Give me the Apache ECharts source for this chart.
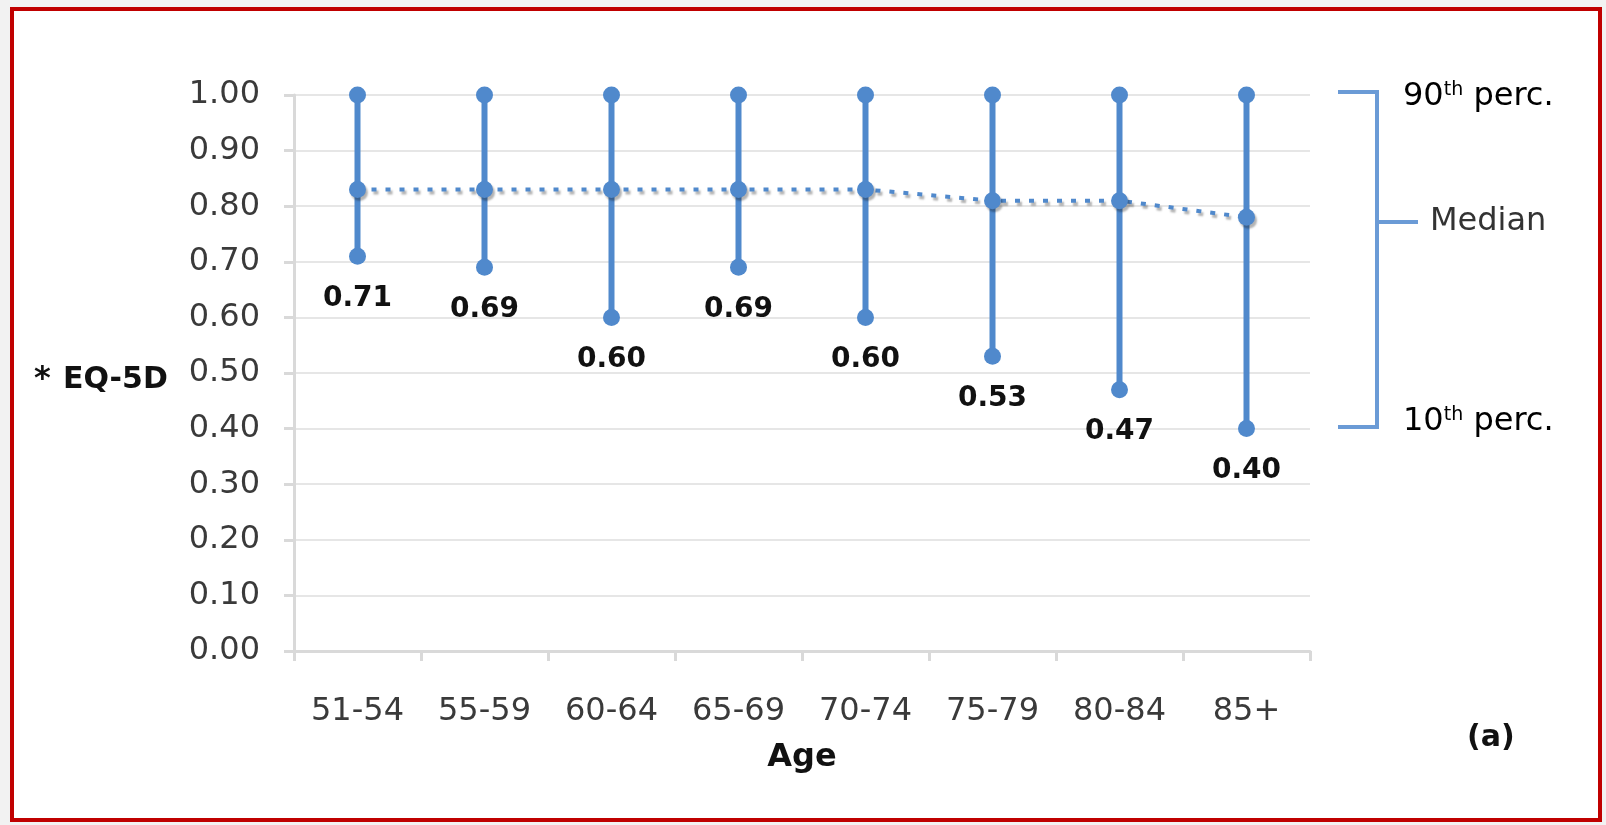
<!DOCTYPE html>
<html>
<head>
<meta charset="utf-8">
<title>EQ-5D by age</title>
<script src="https://cdn.jsdelivr.net/npm/echarts@6.0.0/dist/echarts.min.js"></script>
<style>
    html, body { margin: 0; padding: 0; background: #f2f2f2; }
    #frame {
        position: absolute; left: 10px; top: 7px; width: 1592px; height: 815px;
        box-sizing: border-box; border: 4px solid #c00000; background: #fff;
    }
    #echartsMain { position: absolute; left: 0; top: 0; width: 1606px; height: 825px; }
</style>
</head>
<body>
<div id="frame"></div>
<div id="echartsMain"></div>
<script>
// age groups on the x axis
const ageGroups = ['51-54', '55-59', '60-64', '65-69', '70-74', '75-79', '80-84', '85+'];
// EQ-5D percentiles
const p90 = [1.00, 1.00, 1.00, 1.00, 1.00, 1.00, 1.00, 1.00];
const median = [0.83, 0.83, 0.83, 0.83, 0.83, 0.81, 0.81, 0.78];
const p10 = [0.71, 0.69, 0.60, 0.69, 0.60, 0.53, 0.47, 0.40];

const blue = '#5089cc';
const font = 'DejaVu Sans';
const axisGrey = '#d9d9d9';
const shadow = { shadowColor: 'rgba(0,0,0,0.3)', shadowBlur: 2, shadowOffsetX: 2, shadowOffsetY: 3 };

const rangeData = ageGroups.map((g, i) => [i, p10[i], p90[i]]);

let option = {
    animation: false,
    grid: { left: 294, right: 296, top: 95, bottom: 174 },
    xAxis: {
        type: 'category',
        data: ageGroups,
        boundaryGap: true,
        axisLine: { lineStyle: { color: axisGrey, width: 3 } },
        axisTick: { show: true, length: 10, lineStyle: { color: axisGrey, width: 3 } },
        axisLabel: { fontSize: 32, color: '#3a3a3a', margin: 45, fontFamily: font },
        name: 'Age',
        nameLocation: 'middle',
        nameGap: 91,
        nameTextStyle: { fontSize: 32, fontWeight: 'bold', color: '#111', fontFamily: font }
    },
    yAxis: {
        type: 'value',
        min: 0,
        max: 1,
        interval: 0.1,
        axisLine: { show: true, lineStyle: { color: axisGrey, width: 3 } },
        axisTick: { show: true, length: 10, lineStyle: { color: axisGrey, width: 3 } },
        axisLabel: {
            formatter: v => v.toFixed(2),
            fontSize: 32, color: '#3a3a3a', margin: 34, fontFamily: font
        },
        splitLine: { lineStyle: { color: '#e6e6e6', width: 2 } }
    },
    series: [
        {
            // vertical 10th-90th range
            type: 'custom',
            z: 2,
            data: rangeData,
            renderItem(params, api) {
                let lo = api.coord([api.value(0), api.value(1)]);
                let hi = api.coord([api.value(0), api.value(2)]);
                return {
                    type: 'line',
                    shape: { x1: lo[0], y1: lo[1], x2: hi[0], y2: hi[1] },
                    style: { stroke: blue, lineWidth: 6 }
                };
            }
        },
        {
            type: 'scatter',
            z: 3,
            data: p90,
            symbol: 'circle',
            symbolSize: 17,
            itemStyle: { color: blue, opacity: 1 }
        },
        {
            type: 'scatter',
            z: 3,
            data: p10,
            symbol: 'circle',
            symbolSize: 17,
            itemStyle: { color: blue, opacity: 1 },
            label: {
                show: true,
                position: 'bottom',
                distance: 20,
                formatter: p => p.value.toFixed(2),
                fontSize: 28, fontWeight: 'bold', color: '#111', fontFamily: font
            }
        },
        {
            type: 'line',
            z: 4,
            data: median,
            symbol: 'circle',
            symbolSize: 17,
            itemStyle: Object.assign({ color: blue }, shadow),
            lineStyle: Object.assign({ color: blue, width: 4, type: [5, 9] }, shadow)
        }
    ],
    graphic: [
        // y axis title
        { type: 'text', x: 34, y: 380, style: { text: '*', fontSize: 32, fontWeight: 'bold', fontFamily: font, fill: '#111', verticalAlign: 'middle', textVerticalAlign: 'middle' } },
        { type: 'text', x: 63, y: 380, style: { text: 'EQ-5D', fontSize: 30, fontWeight: 'bold', fontFamily: font, fill: '#111', verticalAlign: 'middle', textVerticalAlign: 'middle' } },
        // bracket legend on the right
        {
            type: 'polyline',
            shape: { points: [[1338, 92], [1377, 92], [1377, 427], [1338, 427]] },
            style: { stroke: '#6b9bd6', lineWidth: 4, fill: null }
        },
        {
            type: 'line',
            shape: { x1: 1377, y1: 222, x2: 1418, y2: 222 },
            style: { stroke: '#6b9bd6', lineWidth: 4 }
        },
        {
            type: 'text', x: 1403, y: 97,
            style: {
                text: '{n|90}{s|th}{n| perc.}',
                verticalAlign: 'middle', textVerticalAlign: 'middle',
                rich: {
                    n: { fontSize: 32, fontFamily: font, color: '#333' },
                    s: { fontSize: 19, fontFamily: font, color: '#333', verticalAlign: 'top' }
                }
            }
        },
        { type: 'text', x: 1430, y: 222, style: { text: 'Median', fontSize: 32, fontFamily: font, fill: '#333', verticalAlign: 'middle', textVerticalAlign: 'middle' } },
        {
            type: 'text', x: 1403, y: 422,
            style: {
                text: '{n|10}{s|th}{n| perc.}',
                verticalAlign: 'middle', textVerticalAlign: 'middle',
                rich: {
                    n: { fontSize: 32, fontFamily: font, color: '#333' },
                    s: { fontSize: 19, fontFamily: font, color: '#333', verticalAlign: 'top' }
                }
            }
        },
        // panel letter
        { type: 'text', x: 1467, y: 738, style: { text: '(a)', fontSize: 30, fontWeight: 'bold', fontFamily: font, fill: '#111', verticalAlign: 'middle', textVerticalAlign: 'middle' } }
    ]
};

let myChart = echarts.init(document.getElementById('echartsMain'));
myChart.setOption(option);
</script>
</body>
</html>
